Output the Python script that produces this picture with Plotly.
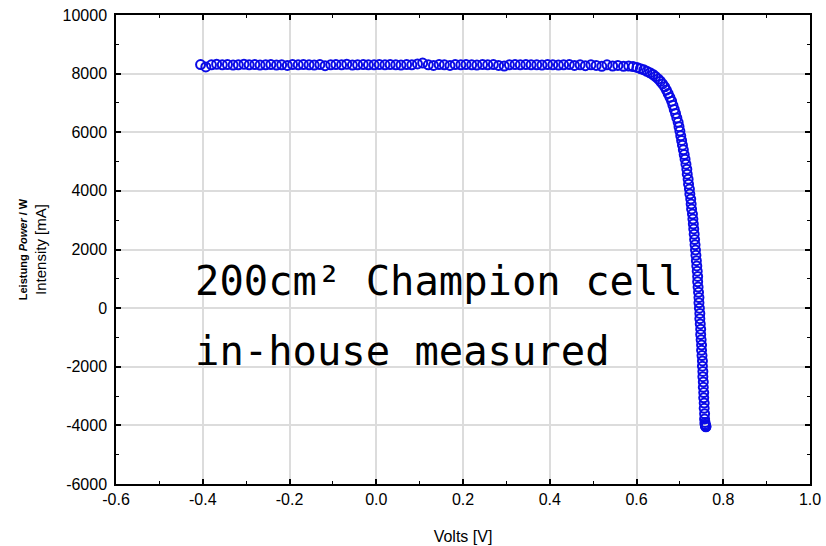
import plotly.graph_objects as go

# Measured I-V curve (Volts, mA)
volts = [
    -0.405, -0.393, -0.380, -0.368, -0.355, -0.343, -0.330, -0.318, -0.305, -0.293,
    -0.280, -0.268, -0.255, -0.243, -0.230, -0.218, -0.205, -0.193, -0.180, -0.168,
    -0.155, -0.143, -0.130, -0.118, -0.105, -0.093, -0.080, -0.068, -0.055, -0.043,
    -0.030, -0.018, -0.005, 0.007, 0.020, 0.032, 0.045, 0.057, 0.070, 0.082,
    0.095, 0.107, 0.120, 0.132, 0.145, 0.157, 0.170, 0.182, 0.195, 0.207,
    0.220, 0.232, 0.245, 0.257, 0.270, 0.282, 0.295, 0.307, 0.320, 0.332,
    0.345, 0.357, 0.370, 0.382, 0.395, 0.407, 0.420, 0.432, 0.445, 0.457,
    0.470, 0.482, 0.495, 0.507, 0.520, 0.532, 0.545, 0.557, 0.570, 0.582,
    0.592, 0.601, 0.609, 0.617, 0.624, 0.631, 0.638, 0.644, 0.650, 0.655,
    0.660, 0.665, 0.669, 0.673, 0.677, 0.681, 0.684, 0.687, 0.690, 0.693,
    0.696, 0.698, 0.700, 0.702, 0.704, 0.706, 0.708, 0.710, 0.712, 0.714,
    0.716, 0.717, 0.719, 0.720, 0.722, 0.723, 0.725, 0.726, 0.727, 0.729,
    0.730, 0.731, 0.732, 0.733, 0.734, 0.735, 0.736, 0.737, 0.738, 0.739,
    0.740, 0.741, 0.741, 0.742, 0.743, 0.744, 0.744, 0.745, 0.746, 0.746,
    0.747, 0.748, 0.748, 0.749, 0.750, 0.750, 0.751, 0.752, 0.752, 0.753,
    0.753, 0.754, 0.754, 0.755, 0.755, 0.756, 0.756, 0.757, 0.757, 0.758,
    0.758, 0.759, 0.759, 0.760, 0.760,
]
current_ma = [
    8310, 8230, 8300, 8320, 8300, 8310, 8290, 8300, 8320, 8300,
    8310, 8290, 8300, 8310, 8290, 8300, 8280, 8310, 8300, 8310,
    8300, 8290, 8310, 8270, 8300, 8310, 8300, 8320, 8290, 8300,
    8310, 8300, 8300, 8310, 8300, 8310, 8300, 8290, 8310, 8300,
    8330, 8360, 8300, 8280, 8310, 8300, 8280, 8310, 8300, 8310,
    8300, 8290, 8310, 8300, 8310, 8280, 8260, 8300, 8310, 8300,
    8310, 8300, 8300, 8290, 8310, 8300, 8290, 8300, 8310, 8280,
    8300, 8270, 8300, 8280, 8250, 8300, 8260, 8280, 8250, 8260,
    8240, 8210, 8170, 8130, 8080, 8030, 7970, 7900, 7820, 7740,
    7650, 7550, 7440, 7320, 7190, 7060, 6920, 6780, 6640, 6490,
    6340, 6190, 6040, 5880, 5720, 5560, 5400, 5240, 5080, 4910,
    4740, 4570, 4400, 4230, 4060, 3890, 3720, 3550, 3380, 3210,
    3040, 2870, 2700, 2520, 2340, 2160, 1980, 1800, 1620, 1440,
    1260, 1080, 900, 720, 540, 360, 180, 0, -180, -360,
    -540, -720, -900, -1080, -1260, -1440, -1620, -1800, -1980, -2160,
    -2340, -2520, -2700, -2880, -3060, -3240, -3420, -3600, -3780, -3900,
    -3960, -4000, -4020, -4040, -4050,
]

x_ticks = [-0.6, -0.4, -0.2, 0.0, 0.2, 0.4, 0.6, 0.8, 1.0]
x_tick_labels = ["-0.6", "-0.4", "-0.2", "0.0", "0.2", "0.4", "0.6", "0.8", "1.0"]
y_ticks = [-6000, -4000, -2000, 0, 2000, 4000, 6000, 8000, 10000]
y_tick_labels = ["-6000", "-4000", "-2000", "0", "2000", "4000", "6000", "8000", "10000"]

note_lines = ["200cm² Champion cell", "in-house measured"]

fig = go.Figure()
fig.add_trace(go.Scatter(
    x=volts, y=current_ma, mode="markers",
    marker=dict(symbol="circle-open", size=9, color="#0a0ae6",
                line=dict(width=2, color="#0a0ae6")),
    showlegend=False, hoverinfo="skip",
))

axis_common = dict(
    showline=True, linecolor="black", linewidth=1.5, mirror="allticks",
    ticks="inside", ticklen=5, tickwidth=1.5, tickcolor="black",
    showgrid=True, gridcolor="#dcdcdc", gridwidth=1.5, zeroline=False,
    automargin=False,
    tickfont=dict(family="Liberation Sans, Arial, sans-serif", size=16, color="black"),
)

fig.update_xaxes(
    range=[-0.6, 1.0], tickvals=x_ticks, ticktext=x_tick_labels,
    minor=dict(ticks="inside", dtick=0.1, ticklen=3, tickwidth=1.2, tickcolor="black", showgrid=False),
    title=dict(text="Volts [V]", font=dict(family="Liberation Sans, Arial, sans-serif", size=16, color="black"),
               standoff=24),
    **axis_common,
)
fig.update_yaxes(
    range=[-6000, 10000], tickvals=y_ticks, ticktext=y_tick_labels,
    ticklabelstandoff=4,
    minor=dict(ticks="inside", dtick=1000, ticklen=3, tickwidth=1.2, tickcolor="black", showgrid=False),
    title=dict(
        text="<b><span style='font-size:11px'>Leistung <i>Power</i> / W</span></b><br>Intensity [mA]",
        font=dict(family="Liberation Sans, Arial, sans-serif", size=15, color="black"),
        standoff=12,
    ),
    **axis_common,
)

# white panel behind the note text (above grid, below data)
fig.add_shape(type="rect", xref="paper", yref="paper",
              x0=(193 - 116) / 694, x1=(662 - 116) / 694,
              y0=(484 - 387) / 469, y1=(484 - 243) / 469,
              fillcolor="white", line=dict(width=0), layer="between")

for i, line in enumerate(note_lines):
    fig.add_annotation(
        xref="paper", yref="paper",
        x=(193 - 116) / 694, y=(484 - (281 + 70 * i)) / 469,
        xanchor="left", yanchor="middle", showarrow=False,
        text=line,
        font=dict(family="DejaVu Sans Mono, monospace", size=40.5, color="black"),
    )

fig.update_layout(
    width=826, height=546,
    margin=dict(l=116, r=16, t=15, b=62),
    plot_bgcolor="white", paper_bgcolor="white",
)

fig.write_html("out.html")
